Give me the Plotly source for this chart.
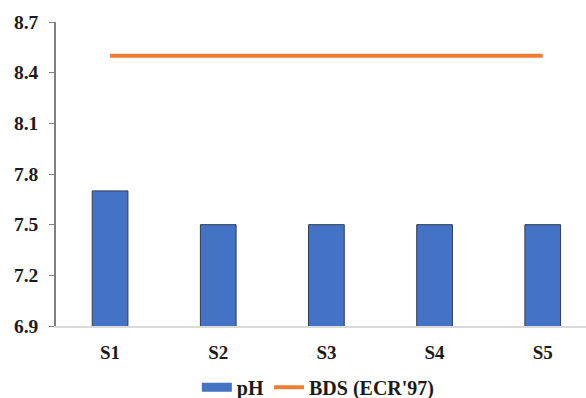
import plotly.graph_objects as go

sites = ["S1", "S2", "S3", "S4", "S5"]
ph_values = [7.7, 7.5, 7.5, 7.5, 7.5]
bds_limit = [8.5, 8.5, 8.5, 8.5, 8.5]
y_ticks = [6.9, 7.2, 7.5, 7.8, 8.1, 8.4, 8.7]

font_family = "Liberation Serif"
dark = "#1a1a1a"
bar_blue = "#4472C4"

fig = go.Figure()
fig.add_trace(go.Bar(
    x=sites, y=ph_values, name="pH", showlegend=False,
    marker=dict(color=bar_blue, line=dict(color="#2F3B52", width=1)),
    width=0.33,
))
# legend key for the bars: a wide filled swatch
fig.add_trace(go.Scatter(
    x=[None], y=[None], name="pH", mode="lines",
    line=dict(color=bar_blue, width=9),
))
fig.add_trace(go.Scatter(
    x=sites, y=bds_limit, name="BDS (ECR'97)", mode="lines",
    line=dict(color="#ED7D31", width=4),
))

fig.update_layout(
    width=586, height=398,
    margin=dict(l=56, r=0, t=22, b=72, autoexpand=False),
    paper_bgcolor="white", plot_bgcolor="white",
    font=dict(family=font_family, size=19, color=dark, weight="bold"),
    showlegend=True,
    legend=dict(orientation="h", x=0.495, xanchor="center",
                yref="container", y=0.027, yanchor="middle",
                font=dict(family=font_family, size=20, color=dark, weight="bold"),
                itemwidth=30, traceorder="normal"),
)
fig.update_xaxes(
    range=[-0.5, 4.4],
    showline=True, linecolor="#D9D9D9", linewidth=1.5,
    ticks="", showgrid=False, ticklabelstandoff=8,
    tickfont=dict(family=font_family, size=19, color=dark, weight="bold"),
)
fig.update_yaxes(
    range=[6.9, 8.7], tickvals=y_ticks, ticktext=[f"{v:.1f}" for v in y_ticks],
    showline=True, linecolor="#7F7F7F", linewidth=1.5,
    ticks="outside", ticklen=5, tickcolor="#7F7F7F", tickwidth=1,
    showgrid=False, zeroline=False, ticklabelstandoff=7,
    tickfont=dict(family=font_family, size=19.5, color=dark, weight="bold"),
)

fig.write_html("out.html")
